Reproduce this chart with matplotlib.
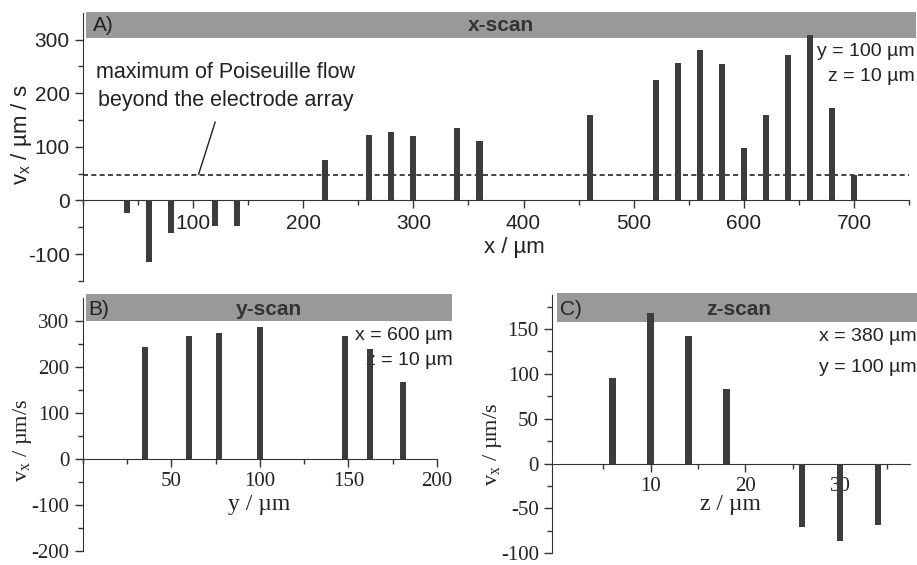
import numpy as np
import matplotlib
matplotlib.use("Agg")
import matplotlib.pyplot as plt
from matplotlib.patches import Rectangle
from matplotlib.ticker import MultipleLocator

plt.rcParams["axes.unicode_minus"] = False

# x-scan (panel A)
x_pos = [40, 60, 80, 120, 140, 220, 260, 280, 300, 340, 360, 460,
         520, 540, 560, 580, 600, 620, 640, 660, 680, 700]
x_vx = [-24, -115, -61, -47, -47, 76, 123, 128, 121, 135, 110, 159,
        224, 256, 281, 255, 97, 159, 271, 308, 172, 48]
poiseuille_max = 47

# y-scan (panel B)
y_pos = [35, 60, 77, 100, 148, 162, 181]
y_vx = [245, 268, 274, 287, 268, 240, 168]

# z-scan (panel C)
z_pos = [6, 10, 14, 18, 26, 30, 34]
z_vx = [96, 168, 142, 83, -71, -86, -69]

SANS = "Liberation Sans"
SERIF = "Liberation Serif"
BAR = "#3c3c3c"
HEAD = "#999999"
AX = "#333333"


def style_axes(ax, tickfont):
    for s in ["top", "right"]:
        ax.spines[s].set_visible(False)
    ax.spines["bottom"].set_position(("data", 0))
    ax.spines["left"].set_color(AX)
    ax.spines["bottom"].set_color(AX)
    ax.tick_params(which="major", direction="out", length=6, width=1, color=AX,
                   labelsize=15, labelcolor="#222222")
    ax.tick_params(which="minor", direction="out", length=3.5, width=1, color=AX)
    for lab in ax.get_xticklabels() + ax.get_yticklabels():
        lab.set_fontfamily(tickfont)
    ax.patch.set_alpha(0)


def header(ax, x0, y0, w, h, letter, title, tx, ty, info, ix, iy, dy):
    ax.add_patch(Rectangle((x0, y0), w, h, transform=ax.transAxes,
                           facecolor=HEAD, edgecolor="none", clip_on=False, zorder=0))
    ax.text(0.008 + x0, ty, letter, transform=ax.transAxes, family=SANS, fontsize=15,
            ha="left", va="center", color="#222222")
    ax.text(tx, ty, title, transform=ax.transAxes, family=SANS, fontsize=15,
            fontweight="bold", ha="center", va="center", color="#333333")
    for k, line in enumerate(info):
        ax.text(ix, iy - k * dy, line, transform=ax.transAxes, family=SANS,
                fontsize=14, ha="right", va="center", color="#222222", zorder=1)


fig = plt.figure(figsize=(9.17, 5.65), dpi=100)

# ---- panel A
axA = fig.add_axes([0.0905, 0.5027, 0.9008, 0.4748])
axA.bar(x_pos, x_vx, width=5.5, color=BAR, zorder=3)
axA.axhline(poiseuille_max, color="#222222", lw=1.2, ls=(0, (3, 2)), zorder=2)
axA.set_xlim(0, 750)
axA.set_ylim(-150, 350)
axA.set_xticks([100, 200, 300, 400, 500, 600, 700])
axA.xaxis.set_minor_locator(MultipleLocator(50))
axA.set_yticks([-100, 0, 100, 200, 300])
axA.set_yticks([-150, -50, 50, 150, 250], minor=True)
style_axes(axA, SANS)
header(axA, 0.004, 0.906, 1.0045, 0.097, "A)", "x-scan", 0.506, 0.954,
       ["y = 100 µm", "z = 10 µm"], 1.007, 0.854, 0.09)
axA.text(129, 238, "maximum of Poiseuille flow", family=SANS, fontsize=15.5,
         ha="center", va="center", color="#222222")
axA.text(130, 187, "beyond the electrode array", family=SANS, fontsize=15.5,
         ha="center", va="center", color="#222222")
axA.plot([120, 105], [146, 49], color="#222222", lw=1)
axA.text(0.522, 0.123, "x / µm", transform=axA.transAxes, family=SANS,
         fontsize=16, ha="center", va="center", color="#222222")
axA.text(-0.074, 0.544, r"v$_\mathregular{x}$ / µm / s", transform=axA.transAxes,
         family=SANS, fontsize=16, rotation=90, ha="center", va="center",
         color="#222222")

# ---- panel B
axB = fig.add_axes([0.0902, 0.025, 0.3864, 0.4467])
axB.bar(y_pos, y_vx, width=3.4, color=BAR, zorder=3)
axB.set_xlim(0, 200)
axB.set_ylim(-200, 350)
axB.set_xticks([50, 100, 150, 200])
axB.xaxis.set_minor_locator(MultipleLocator(25))
axB.set_yticks([-200, -100, 0, 100, 200, 300])
axB.set_yticks([-150, -50, 50, 150, 250], minor=True)
style_axes(axB, SERIF)
header(axB, 0.009, 0.909, 1.033, 0.11, "B)", "y-scan", 0.526, 0.956,
       ["x = 600 µm", "z = 10 µm"], 1.045, 0.853, 0.097)
axB.text(0.498, 0.185, "y / µm", transform=axB.transAxes, family=SERIF,
         fontsize=17, ha="center", va="center", color="#222222")
axB.text(-0.17, 0.439, r"v$_\mathregular{x}$ / µm/s", transform=axB.transAxes,
         family=SERIF, fontsize=16, rotation=90, ha="center", va="center",
         color="#222222")

# ---- panel C
axC = fig.add_axes([0.602, 0.0207, 0.3904, 0.4572])
axC.bar(z_pos, z_vx, width=0.7, color=BAR, zorder=3)
axC.set_xlim(-0.4, 37.4)
axC.set_ylim(-100, 188)
axC.set_xticks([10, 20, 30])
axC.set_xticks([5, 15, 25, 35], minor=True)
axC.set_yticks([-100, -50, 0, 50, 100, 150])
axC.yaxis.set_minor_locator(MultipleLocator(25))
style_axes(axC, SERIF)
header(axC, 0.014, 0.895, 1.006, 0.113, "C)", "z-scan", 0.520, 0.942,
       ["x = 380 µm", "y = 100 µm"], 1.019, 0.839, 0.12)
axC.text(0.497, 0.187, "z / µm", transform=axC.transAxes, family=SERIF,
         fontsize=17, ha="center", va="center", color="#222222")
axC.text(-0.165, 0.42, r"v$_\mathregular{x}$ / µm/s", transform=axC.transAxes,
         family=SERIF, fontsize=16, rotation=90, ha="center", va="center",
         color="#222222")

fig.savefig("out.png", dpi=100)
